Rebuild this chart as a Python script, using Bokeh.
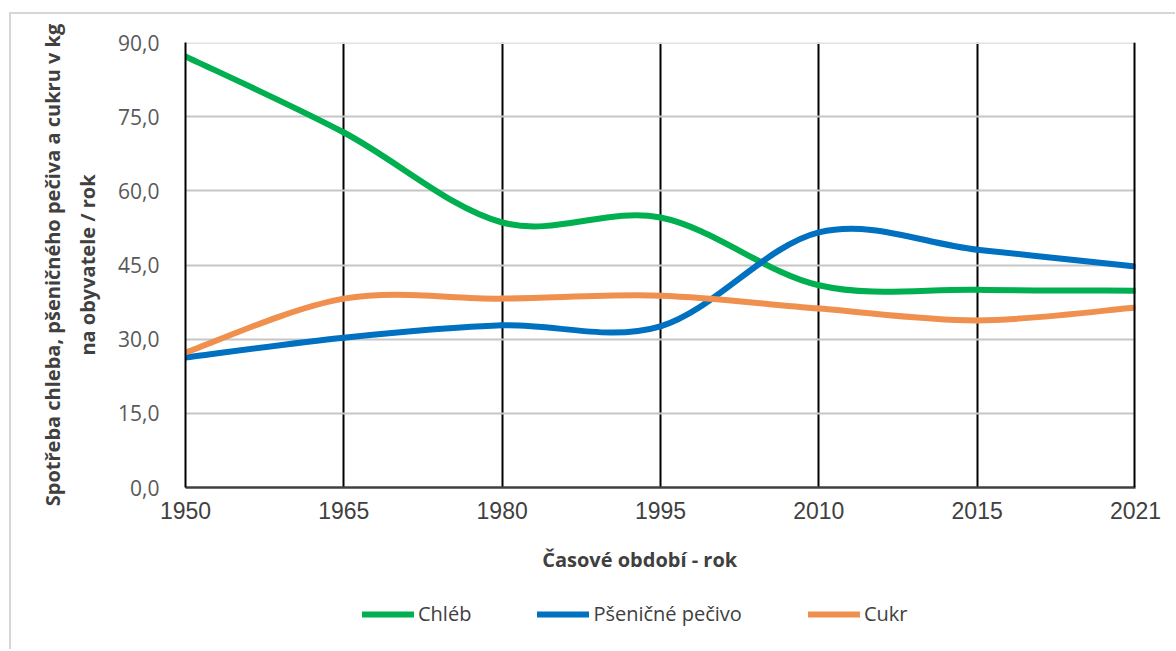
import numpy as np
from bokeh.plotting import figure
from bokeh.layouts import column
from bokeh.models import (FixedTicker, Span, Legend, LegendItem, ColumnDataSource)
from bokeh.embed import file_html
from bokeh.resources import INLINE

# ---- data ----
years = ["1950", "1965", "1980", "1995", "2010", "2015", "2021"]
chleb = [87.2, 71.8, 53.6, 54.6, 40.9, 40.0, 39.8]
pecivo = [26.3, 30.3, 32.8, 32.6, 51.6, 48.1, 44.7]
cukr = [27.3, 38.2, 38.2, 38.8, 36.2, 33.8, 36.4]
y_ticks = [0, 15, 30, 45, 60, 75, 90]
y_tick_labels = ["0,0", "15,0", "30,0", "45,0", "60,0", "75,0", "90,0"]
series_names = ["Chléb", "Pšeničné pečivo", "Cukr"]
series_colors = ["#00B050", "#0070C0", "#F0904E"]
x_title = "Časové období - rok"
y_title_lines = ["Spotřeba chleba, pšeničného pečiva a cukru v kg", "na obyvatele / rok"]

NB = "\u00a0"  # trailing no-break spaces shift the centred x title like in the reference
p = figure(frame_width=950, frame_height=445, output_backend="svg",
           toolbar_location=None,
           x_range=(0, len(years) - 1), y_range=(0, 90),
           min_border_left=174, min_border_top=28, min_border_right=40,
           min_border_bottom=110)
p.outline_line_color = None
p.background_fill_color = "white"
p.border_fill_color = "white"

# axes
xs = list(range(len(years)))
p.xaxis.ticker = FixedTicker(ticks=xs)
p.xaxis.major_label_overrides = {i: y for i, y in enumerate(years)}
p.xaxis.major_tick_line_color = None
p.xaxis.major_tick_out = 0
p.xaxis.minor_tick_line_color = None
p.xaxis.axis_line_color = "#404040"
p.xaxis.axis_line_width = 2.5
p.xaxis.major_label_text_font = "Liberation Sans"
p.xaxis.major_label_text_font_size = "23px"
p.xaxis.major_label_text_color = "#404040"
p.xaxis.major_label_standoff = 14
p.xaxis.axis_label = x_title + NB * 8
p.xaxis.axis_label_standoff = 24
p.xaxis.axis_label_text_font = "Open Sans"
p.xaxis.axis_label_text_font_style = "bold"
p.xaxis.axis_label_text_font_size = "20px"
p.xaxis.axis_label_text_color = "#404040"

p.yaxis.ticker = FixedTicker(ticks=y_ticks)
p.yaxis.major_label_overrides = {t: l for t, l in zip(y_ticks, y_tick_labels)}
p.yaxis.major_tick_line_color = None
p.yaxis.major_tick_out = 0
p.yaxis.minor_tick_line_color = None
p.yaxis.axis_line_color = "black"
p.yaxis.axis_line_width = 2
p.yaxis.major_label_text_font = "Open Sans"
p.yaxis.major_label_text_font_size = "21px"
p.yaxis.major_label_text_color = "#595959"
p.yaxis.major_label_standoff = 26
p.yaxis.axis_label = "\n".join(y_title_lines)
p.yaxis.axis_label_standoff = 14
p.yaxis.axis_label_text_font = "Open Sans"
p.yaxis.axis_label_text_font_style = "bold"
p.yaxis.axis_label_text_font_size = "20px"
p.yaxis.axis_label_text_color = "#404040"
p.yaxis.axis_label_text_line_height = 1.3

# grids
p.xgrid.ticker = FixedTicker(ticks=xs)
p.xgrid.grid_line_color = "black"
p.xgrid.grid_line_width = 2
p.ygrid.ticker = FixedTicker(ticks=y_ticks[1:-1])
p.ygrid.grid_line_color = "#c6c6c6"
p.ygrid.grid_line_width = 2
p.add_layout(Span(location=y_ticks[-1], dimension="width",
                  line_color="#e2e2e2", line_width=3, level="underlay"))
p.add_layout(Span(location=xs[-1], dimension="height",
                  line_color="black", line_width=4))

# smoothed lines (Excel-style Catmull-Rom Bezier segments from the data)
def bezier_source(vals):
    y = np.asarray(vals, dtype=float)
    x = np.asarray(xs, dtype=float)
    n = len(y)
    xp = np.concatenate([[x[0]], x, [x[-1]]])
    yp = np.concatenate([[y[0]], y, [y[-1]]])
    d = dict(x0=[], y0=[], x1=[], y1=[], cx0=[], cy0=[], cx1=[], cy1=[])
    for i in range(n - 1):
        a, b, c, e = i, i + 1, i + 2, i + 3
        d["x0"].append(xp[b]); d["y0"].append(yp[b])
        d["x1"].append(xp[c]); d["y1"].append(yp[c])
        d["cx0"].append(xp[b] + (xp[c] - xp[a]) / 6)
        d["cy0"].append(yp[b] + (yp[c] - yp[a]) / 6)
        d["cx1"].append(xp[c] - (xp[e] - xp[b]) / 6)
        d["cy1"].append(yp[c] - (yp[e] - yp[b]) / 6)
    return ColumnDataSource(d)

for vals, col in zip([chleb, pecivo, cukr], series_colors):
    p.bezier(x0="x0", y0="y0", x1="x1", y1="y1", cx0="cx0", cy0="cy0",
             cx1="cx1", cy1="cy1", source=bezier_source(vals),
             line_color=col, line_width=6, line_cap="round")

# legend strip below the chart (its own small figure so nothing is clipped)
leg = figure(width=1164, height=52, output_backend="svg", toolbar_location=None,
             x_axis_type=None, y_axis_type=None, x_range=(0, 1), y_range=(0, 1),
             min_border=0)
leg.outline_line_color = None
leg.grid.visible = False
items = []
for name, col in zip(series_names, series_colors):
    # legend key renderers: a segment kept outside the visible range
    r = leg.line(x=[-3, -2], y=[-3, -3], line_color=col, line_width=6,
                 line_cap="round")
    items.append(LegendItem(label=name, renderers=[r]))
legend = Legend(items=items, orientation="horizontal", location=(177, 22),
                glyph_width=52, glyph_height=20, label_height=20,
                label_standoff=4, spacing=66,
                padding=0, margin=0, border_line_color=None,
                background_fill_alpha=0,
                label_text_font="Open Sans", label_text_font_size="20px",
                label_text_color="#404040")
leg.add_layout(legend, "center")

layout = column(p, leg, spacing=0,
                styles={"margin-left": "9px", "margin-top": "12px",
                        "border-left": "2px solid #d6d6d6",
                        "border-top": "2px solid #d6d6d6"})

html = file_html(layout, INLINE)
html = html.replace("</head>", "<style>html,body{overflow:hidden;}</style></head>", 1)
open("out.html", "w").write(html)
